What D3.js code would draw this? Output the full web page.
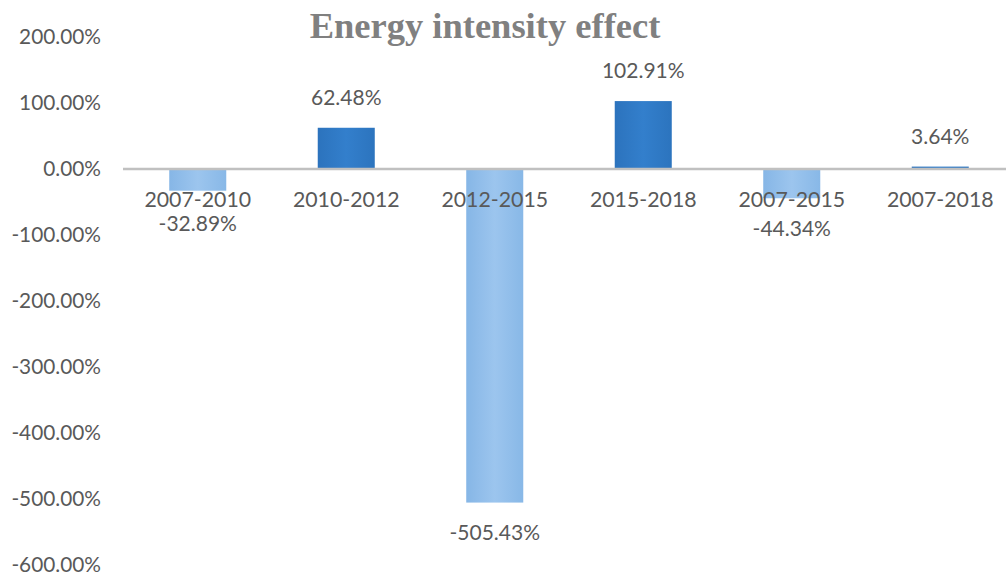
<!DOCTYPE html>
<html>
<head>
<meta charset="utf-8">
<script src="https://cdn.jsdelivr.net/npm/d3@7"></script>
<style>
  body { margin: 0; background: #fff; }
  svg { display: block; }
</style>
</head>
<body>
<div id="chart"></div>
<script>
// Data
var periods = ["2007-2010", "2010-2012", "2012-2015", "2015-2018", "2007-2015", "2007-2018"];
var effect = [-32.89, 62.48, -505.43, 102.91, -44.34, 3.64];
var yTicks = [200, 100, 0, -100, -200, -300, -400, -500, -600];

var width = 1006, height = 576;

var svg = d3.select("#chart")
  .append("svg")
    .attr("width", width)
    .attr("height", height);

// Gradients for the bars
var defs = svg.append("defs");

var posGrad = defs.append("linearGradient")
    .attr("id", "posGrad")
    .attr("x1", "0%").attr("y1", "0%")
    .attr("x2", "100%").attr("y2", "0%");
posGrad.append("stop").attr("offset", "0%").attr("stop-color", "#2c73bd");
posGrad.append("stop").attr("offset", "50%").attr("stop-color", "#337fcc");
posGrad.append("stop").attr("offset", "100%").attr("stop-color", "#2c74be");

var negGrad = defs.append("linearGradient")
    .attr("id", "negGrad")
    .attr("x1", "0%").attr("y1", "0%")
    .attr("x2", "100%").attr("y2", "0%");
negGrad.append("stop").attr("offset", "0%").attr("stop-color", "#86b6e6");
negGrad.append("stop").attr("offset", "50%").attr("stop-color", "#9cc5ee");
negGrad.append("stop").attr("offset", "100%").attr("stop-color", "#88b8e7");

// Scales
var x = d3.scaleBand()
    .domain(periods)
    .range([123.5, 1014.5])
    .paddingInner(0.616)
    .paddingOuter(0.308);

var y = d3.scaleLinear()
    .domain([-600, 200])
    .range([565, 37]);

var fmt = function(v) { return v.toFixed(2) + "%"; };
var font = "Lato, 'Open Sans', sans-serif";

// Title
svg.append("text")
    .attr("x", 485)
    .attr("y", 38)
    .attr("text-anchor", "middle")
    .attr("font-family", "'Liberation Serif', 'Times New Roman', serif")
    .attr("font-weight", "bold")
    .attr("font-size", 36.5)
    .attr("fill", "#808080")
    .text("Energy intensity effect");

// Y axis labels
var yAxis = d3.axisLeft(y)
    .tickValues(yTicks)
    .tickFormat(function(d) { return d.toFixed(2) + "%"; })
    .tickSize(0)
    .tickPadding(0);

var yg = svg.append("g")
    .attr("transform", "translate(101,0)")
    .call(yAxis);
yg.select(".domain").remove();
yg.selectAll("text")
    .attr("font-family", font)
    .attr("font-size", 20.8)
    .attr("fill", "#595959");

// Bars
svg.selectAll("rect.bar")
  .data(effect)
  .enter().append("rect")
    .attr("class", "bar")
    .attr("x", function(d, i) { return x(periods[i]); })
    .attr("width", x.bandwidth())
    .attr("y", function(d) { return d >= 0 ? y(d) : y(0); })
    .attr("height", function(d) { return Math.abs(y(d) - y(0)); })
    .attr("fill", function(d) { return d >= 0 ? "url(#posGrad)" : "url(#negGrad)"; });

// Zero line
svg.append("line")
    .attr("x1", 123)
    .attr("x2", width)
    .attr("y1", y(0))
    .attr("y2", y(0))
    .attr("stroke", "#c0c0c0")
    .attr("stroke-width", 2.5);

// Category labels (sit just under the zero line)
var catY = y(0) + 31;
svg.selectAll("text.cat")
  .data(periods)
  .enter().append("text")
    .attr("class", "cat")
    .attr("x", function(d) { return x(d) + x.bandwidth() / 2; })
    .attr("y", catY)
    .attr("dy", "0.35em")
    .attr("text-anchor", "middle")
    .attr("font-family", font)
    .attr("font-size", 21.3)
    .attr("fill", "#595959")
    .text(function(d) { return d; });

// Value labels, pushed below the category label when they would collide
svg.selectAll("text.val")
  .data(effect)
  .enter().append("text")
    .attr("class", "val")
    .attr("x", function(d, i) { return x(periods[i]) + x.bandwidth() / 2; })
    .attr("y", function(d) { return d >= 0 ? y(d) - 30 : Math.max(y(d) + 30, catY + 24); })
    .attr("dy", "0.35em")
    .attr("text-anchor", "middle")
    .attr("font-family", font)
    .attr("font-size", 21)
    .attr("fill", "#595959")
    .text(function(d) { return fmt(d); });
</script>
</body>
</html>
